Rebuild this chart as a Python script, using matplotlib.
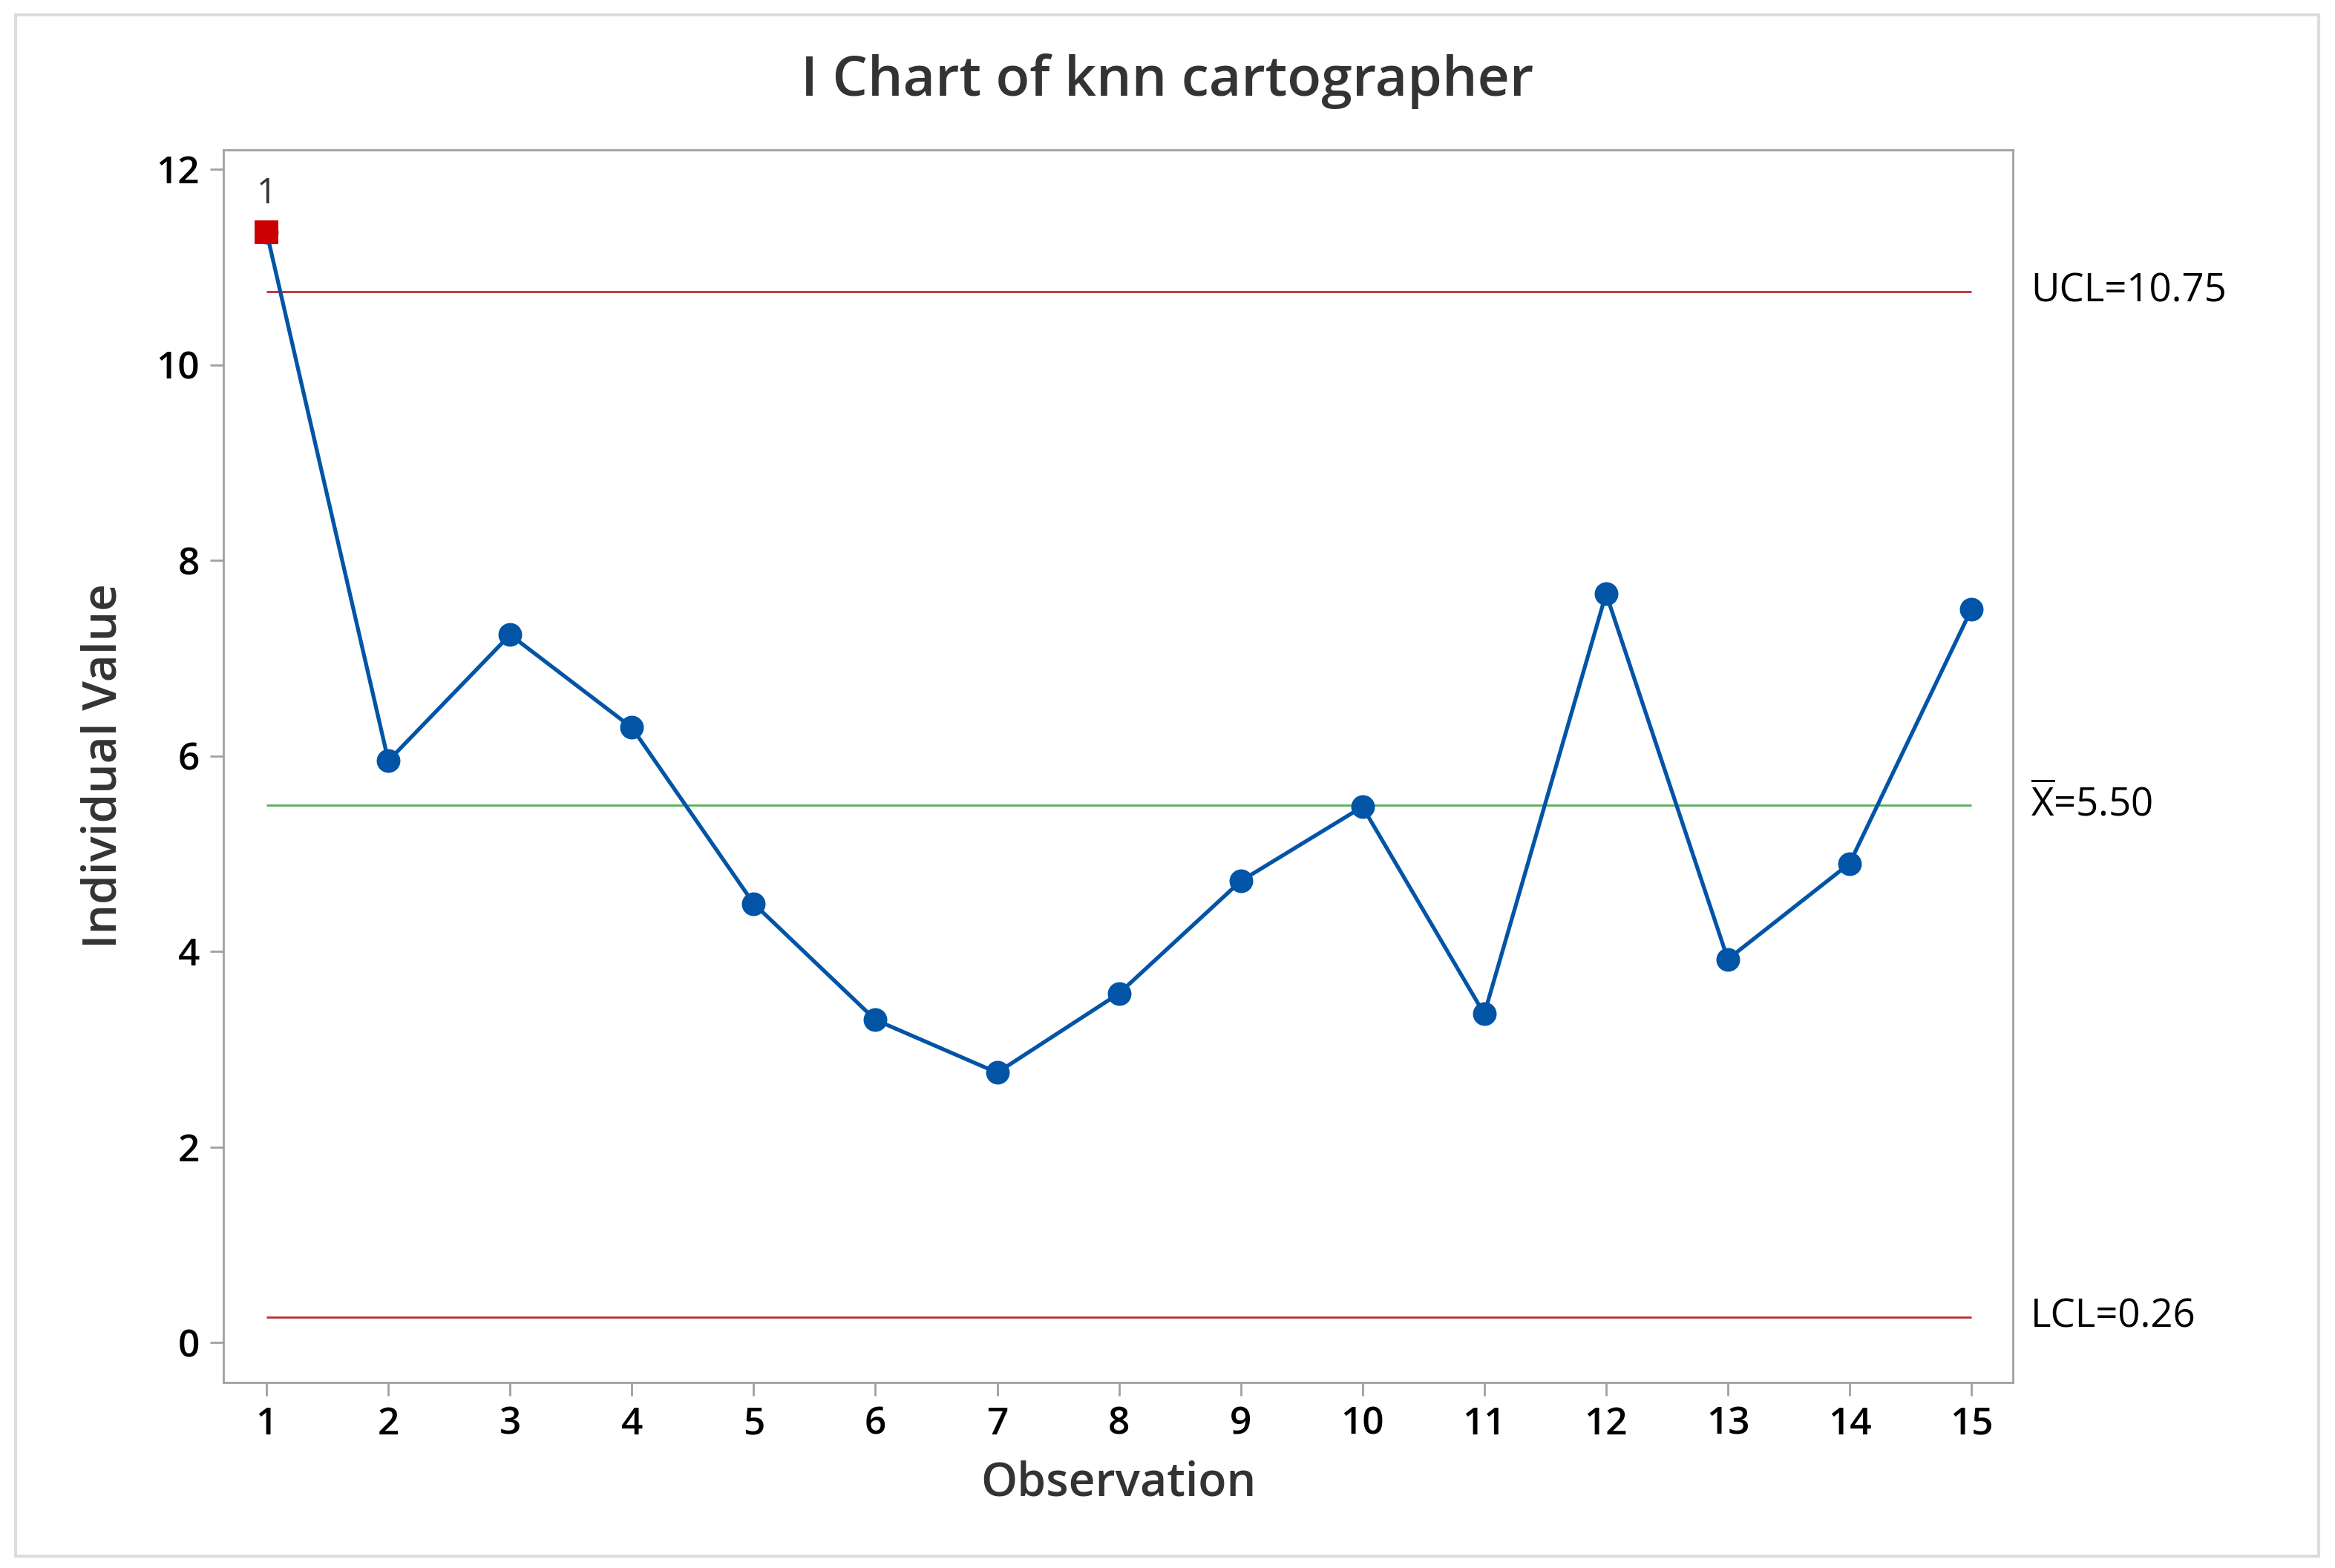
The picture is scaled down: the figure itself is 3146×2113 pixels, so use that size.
import numpy as np
import matplotlib
matplotlib.use("Agg")
import matplotlib.pyplot as plt
from matplotlib.patches import Rectangle

plt.rcParams['font.family'] = ['Open Sans', 'DejaVu Sans']
plt.rcParams['mathtext.fontset'] = 'custom'
plt.rcParams['mathtext.rm'] = 'Open Sans'

# Datos del gráfico I (valores individuales)
observacion = np.arange(1, 16)
valores = [11.36, 5.95, 7.24, 6.29, 4.49, 3.30, 2.76, 3.57,
           4.72, 5.48, 3.36, 7.66, 3.92, 4.90, 7.50]
ucl = 10.75
media = 5.50
lcl = 0.26
fuera_control = [1]  # observaciones que fallan la prueba 1

azul = '#0254A6'
rojo = '#CC0000'

fig = plt.figure(figsize=(15.73, 10.565), dpi=200)
ax = fig.add_axes([0.0957, 0.1183, 0.7663, 0.7861])

# Líneas de control
ax.hlines(ucl, 1, 15, color='#B83030', lw=1.0, zorder=1)
ax.hlines(lcl, 1, 15, color='#B83030', lw=1.0, zorder=1)
ax.hlines(media, 1, 15, color='#55B05A', lw=1.0, zorder=1)

# Serie
ax.plot(observacion, valores, color=azul, lw=1.9, marker='o',
        markersize=11.5, markeredgewidth=0, zorder=3)
for obs in fuera_control:
    ax.plot(obs, valores[obs - 1], marker='s', color=rojo, markersize=11.5,
            markeredgewidth=0, zorder=4)
    ax.annotate('1', (obs, valores[obs - 1]), xytext=(0, 10),
                textcoords='offset points', ha='center', va='bottom',
                fontsize=17, color='#333333')

ax.set_xlim(0.646, 15.34)
ax.set_ylim(-0.41, 12.2)
ax.set_xticks(observacion)
ax.set_yticks(np.arange(0, 13, 2))

for s in ax.spines.values():
    s.set_color('#A0A0A0')
    s.set_linewidth(1.0)
ax.tick_params(axis='both', colors='#A0A0A0', labelcolor='black',
               labelsize=18.5, width=1.0, length=6.5)
ax.tick_params(axis='x', pad=5)
ax.tick_params(axis='y', pad=5)
for lab in ax.get_xticklabels() + ax.get_yticklabels():
    lab.set_fontweight('semibold')

ax.set_xlabel('Observation', fontsize=22.5, fontweight='semibold',
              color='#333333', labelpad=8)
ax.set_ylabel('Individual Value', fontsize=23, fontweight='semibold',
              color='#333333', labelpad=14)

# Etiquetas de los límites
trans = ax.get_yaxis_transform()
ax.text(1.01, ucl, 'UCL=10.75', transform=trans, fontsize=19,
        va='center', ha='left', color='black')
ax.text(1.01, media, r'$\overline{\mathrm{X}}$=5.50', transform=trans,
        fontsize=19, va='center', ha='left', color='black')
ax.text(1.01, lcl, 'LCL=0.26', transform=trans, fontsize=19,
        va='center', ha='left', color='black')

fig.text(0.5, 0.948, 'I Chart of knn cartographer', ha='center',
         va='center', fontsize=27, fontweight='semibold', color='#333333')

# Marco exterior
fig.patches.append(Rectangle((21 / 3146, 16 / 2113), (3124 - 21) / 3146,
                             (2093 - 16) / 2113, transform=fig.transFigure,
                             fill=False, edgecolor='#DCDCDC', lw=1.5))

fig.savefig('out.png', dpi=200)
